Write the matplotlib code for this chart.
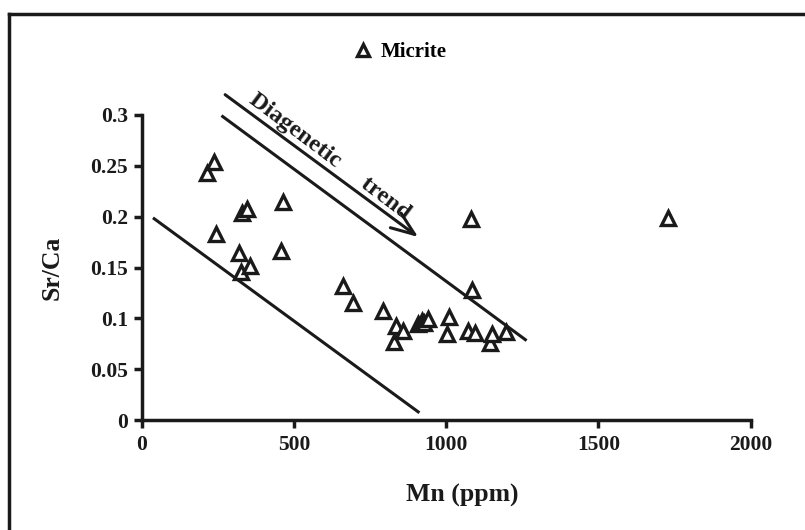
import matplotlib
matplotlib.use("Agg")
import matplotlib.pyplot as plt
from matplotlib.lines import Line2D

plt.rcParams['font.family'] = ['Liberation Serif', 'DejaVu Serif']
plt.rcParams['font.weight'] = 'bold'

# Data
mn = [215, 237, 244, 321, 326, 330, 347, 356, 457, 463, 662, 693, 793,
      829, 834, 859, 907, 920, 927, 939, 1002, 1010, 1071, 1080, 1086,
      1095, 1143, 1149, 1195, 1729]
srca = [0.243, 0.254, 0.183, 0.164, 0.146, 0.204, 0.208, 0.151, 0.166, 0.214,
        0.132, 0.115, 0.107, 0.077, 0.092, 0.088, 0.094, 0.097, 0.095, 0.099,
        0.085, 0.101, 0.088, 0.198, 0.128, 0.086, 0.076, 0.085, 0.087, 0.199]

lower_line_x = [41, 908]
lower_line_y = [0.198, 0.008]
upper_line_x = [266, 1260]
upper_line_y = [0.2985, 0.079]
arrow_x = [274, 908]
arrow_y = [0.320, 0.180]

xticks = [0, 500, 1000, 1500, 2000]
yticks = [0, 0.05, 0.1, 0.15, 0.2, 0.25, 0.3]
yticklabels = ['0', '0.05', '0.1', '0.15', '0.2', '0.25', '0.3']

INK = '#1a1a1a'

fig = plt.figure(figsize=(8.05, 5.30), dpi=100)
ax = fig.add_axes([141.7/805, 1-420/530, (750.7-141.7)/805, (420-115)/530])

ax.plot(mn, srca, linestyle='none', marker='^', markersize=10,
        markerfacecolor='white', markeredgecolor=INK, markeredgewidth=2.4,
        label='Micrite', clip_on=False, zorder=3)

ax.plot(lower_line_x, lower_line_y, color=INK, lw=2.2, clip_on=False)
ax.plot(upper_line_x, upper_line_y, color=INK, lw=2.2, clip_on=False)
ax.annotate('', xy=(arrow_x[1], arrow_y[1]), xytext=(arrow_x[0], arrow_y[0]),
            arrowprops=dict(arrowstyle='->,head_length=1.7,head_width=0.65',
                            color=INK, lw=2.2, shrinkA=0, shrinkB=0),
            annotation_clip=False)

ax.text(348, 0.313, 'Diagenetic     trend', rotation=-37, rotation_mode='anchor',
        ha='left', va='baseline', fontsize=17.5, fontweight='bold', color=INK)

ax.set_xlim(0, 2000)
ax.set_ylim(0, 0.3)
ax.set_xticks(xticks)
ax.set_xticklabels([str(t) for t in xticks])
ax.set_yticks(yticks)
ax.set_yticklabels(yticklabels)

for s in ['top', 'right']:
    ax.spines[s].set_visible(False)
for s in ['left', 'bottom']:
    ax.spines[s].set_linewidth(2.5)
    ax.spines[s].set_color(INK)
ax.tick_params(axis='both', direction='out', length=6, width=2.5, color=INK,
               labelsize=15.5, labelcolor=INK)
ax.tick_params(axis='x', pad=5)
ax.tick_params(axis='y', pad=4)
for lab in ax.get_xticklabels() + ax.get_yticklabels():
    lab.set_fontweight('bold')

ax.set_xlabel('Mn (ppm)', fontsize=18.5, fontweight='bold', color=INK)
ax.xaxis.set_label_coords((462-141.7)/(750.7-141.7), -(495-420)/305, transform=ax.transAxes)
ax.xaxis.label.set_va('center')
ax.set_ylabel('Sr/Ca', fontsize=18.5, fontweight='bold', color=INK)
ax.yaxis.set_label_coords(-(141.7-52)/609, (420-268)/305, transform=ax.transAxes)
ax.yaxis.label.set_va('center')

leg = ax.legend(loc='center', bbox_to_anchor=(401/805, 1-52/530),
                bbox_transform=fig.transFigure, frameon=False, fontsize=15,
                handlelength=0.7, handletextpad=0.5, markerscale=0.8,
                borderpad=0, borderaxespad=0)
for t in leg.get_texts():
    t.set_fontweight('bold')

# outer frame: top and left lines
fig.add_artist(Line2D([9/805, 1], [1-14/530, 1-14/530], transform=fig.transFigure,
                      color=INK, lw=2.5))
fig.add_artist(Line2D([9/805, 9/805], [1-14/530, 0], transform=fig.transFigure,
                      color=INK, lw=2.5))

fig.savefig('out.png', dpi=100)
